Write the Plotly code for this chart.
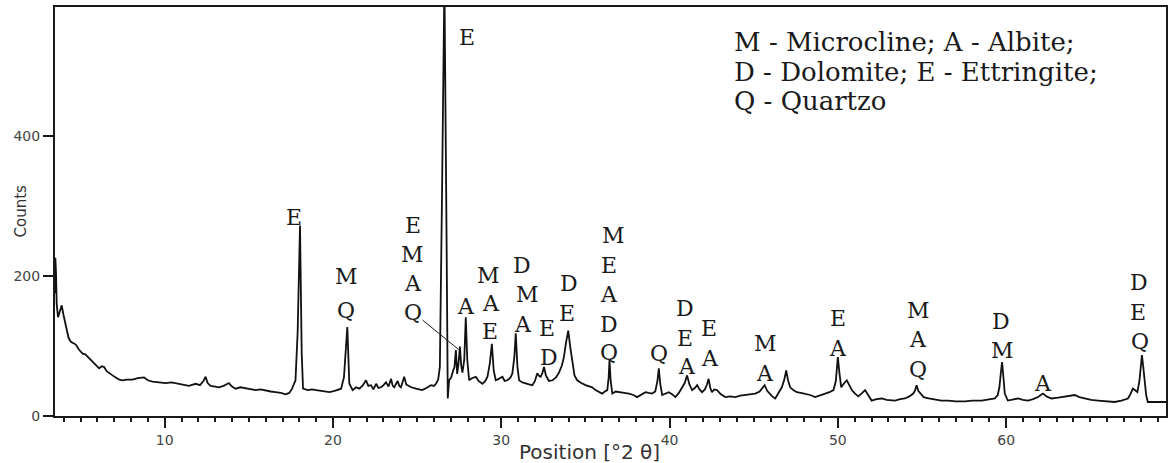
import plotly.graph_objects as go

# Diffractogram: position (°2θ) and intensity (counts)
two_theta = [
    3.48, 3.50, 3.54, 3.58, 3.66, 3.76, 3.88, 3.98, 4.13, 4.28, 4.42, 4.58, 4.72, 4.90,
    5.12, 5.28, 5.41, 5.60, 5.81, 6.00, 6.10, 6.25, 6.40, 6.55, 6.70, 6.90, 7.09, 7.30,
    7.49, 7.75, 8.08, 8.40, 8.77, 9.00, 9.27, 9.60, 10.06, 10.40, 10.85, 11.15, 11.44,
    11.84, 12.10, 12.30, 12.43, 12.55, 12.73, 13.00, 13.22, 13.50, 13.81, 14.00, 14.21,
    14.50, 14.80, 15.10, 15.40, 15.70, 16.00, 16.30, 16.58, 16.90, 17.18, 17.40, 17.57,
    17.77, 17.90, 18.04, 18.14, 18.22, 18.50, 18.75, 19.00, 19.40, 19.79, 20.10, 20.48,
    20.65, 20.85, 20.97, 21.17, 21.37, 21.57, 21.78, 21.96, 22.10, 22.26, 22.40, 22.56,
    22.70, 22.85, 23.00, 23.15, 23.30, 23.45, 23.55, 23.64, 23.84, 23.94, 24.04, 24.23,
    24.35, 24.43, 24.65, 24.93, 25.10, 25.30, 25.55, 25.82, 26.00, 26.12, 26.25, 26.35,
    26.47, 26.62, 26.75, 26.82, 26.90, 27.02, 27.14, 27.22, 27.30, 27.38, 27.46, 27.54,
    27.62, 27.69, 27.80, 27.89, 27.98, 28.09, 28.25, 28.49, 28.65, 28.88, 29.05, 29.18,
    29.32, 29.44, 29.55, 29.67, 29.85, 30.07, 30.20, 30.36, 30.55, 30.66, 30.78, 30.86,
    30.96, 31.06, 31.25, 31.45, 31.65, 31.85, 32.00, 32.14, 32.25, 32.34, 32.45, 32.54,
    32.65, 32.83, 33.05, 33.25, 33.43, 33.60, 33.72, 33.85, 33.98, 34.10, 34.22, 34.35,
    34.51, 34.75, 35.01, 35.20, 35.40, 35.60, 35.80, 35.99, 36.15, 36.30, 36.38, 36.43,
    36.50, 36.60, 36.80, 36.99, 37.30, 37.58, 37.85, 38.07, 38.30, 38.57, 38.75, 38.96,
    39.15, 39.28, 39.36, 39.45, 39.56, 39.75, 39.95, 40.15, 40.35, 40.55, 40.74, 40.90,
    41.04, 41.18, 41.34, 41.50, 41.64, 41.78, 41.93, 42.10, 42.22, 42.32, 42.42, 42.52,
    42.65, 42.82, 43.05, 43.31, 43.60, 43.91, 44.20, 44.50, 44.80, 45.09, 45.35, 45.52,
    45.65, 45.80, 45.95, 46.10, 46.28, 46.50, 46.67, 46.82, 46.93, 47.05, 47.17, 47.35,
    47.56, 47.80, 48.06, 48.35, 48.65, 48.95, 49.25, 49.50, 49.74, 49.88, 50.00, 50.10,
    50.20, 50.35, 50.53, 50.68, 50.83, 51.02, 51.22, 51.45, 51.62, 51.80, 52.01, 52.30,
    52.61, 52.90, 53.20, 53.40, 53.70, 53.99, 54.25, 54.48, 54.58, 54.68, 54.78, 54.90,
    55.10, 55.40, 55.77, 56.15, 56.56, 57.00, 57.55, 58.00, 58.54, 58.95, 59.33, 59.50,
    59.60, 59.70, 59.76, 59.84, 59.92, 60.10, 60.40, 60.71, 61.00, 61.30, 61.60, 61.90,
    62.05, 62.19, 62.40, 62.69, 63.00, 63.28, 63.70, 64.08, 64.35, 64.67, 65.05, 65.46,
    65.95, 66.45, 66.85, 67.24, 67.40, 67.53, 67.65, 67.80, 67.92, 68.02, 68.07, 68.15,
    68.23, 68.32, 68.42, 68.80, 69.20, 69.60,
]

counts = [
    175, 226, 205, 160, 141, 150, 158, 145, 127, 112, 106, 104, 102, 95,
    89, 88, 85, 80, 75, 70, 68, 71, 70, 64, 61, 58, 55, 52,
    51, 52, 52, 54, 55, 51, 49, 48, 47, 48, 46, 45, 43,
    46, 44, 50, 56, 47, 43, 42, 41, 43, 47, 42, 39,
    41, 40, 38, 37, 38, 36, 35, 34, 33, 31, 33, 39,
    51, 120, 272, 90, 39, 37, 38, 37, 35, 34, 36, 39,
    55, 127, 46, 37, 41, 39, 44, 51, 43, 44, 38, 46,
    40, 41, 44, 48, 42, 53, 43, 41, 50, 43, 41, 56,
    45, 44, 41, 39, 38, 37, 40, 44, 43, 46, 52, 70,
    300, 620, 250, 25, 51, 55, 65, 70, 94, 60, 75, 99,
    72, 62, 80, 141, 80, 51, 54, 56, 50, 46, 50, 56,
    75, 103, 65, 51, 53, 56, 50, 51, 55, 61, 85, 118,
    70, 51, 48, 46, 45, 44, 50, 61, 57, 56, 62, 70,
    58, 50, 51, 55, 62, 72, 84, 105, 122, 98, 75, 58,
    51, 47, 44, 43, 41, 37, 35, 32, 35, 37, 55, 80,
    50, 32, 35, 34, 33, 32, 30, 27, 30, 34, 33, 32,
    35, 50, 68, 45, 30, 32, 34, 31, 27, 33, 41, 47,
    58, 45, 37, 40, 44, 38, 34, 38, 45, 53, 40, 34,
    38, 37, 31, 27, 28, 27, 29, 30, 31, 32, 35, 40,
    44, 36, 32, 28, 25, 33, 41, 52, 65, 50, 41, 37,
    34, 33, 32, 30, 27, 29, 32, 34, 37, 50, 84, 60,
    41, 46, 51, 44, 37, 32, 28, 33, 37, 30, 22, 24,
    25, 23, 22, 22, 24, 25, 28, 32, 36, 44, 36, 32,
    27, 25, 23, 22, 22, 21, 21, 22, 22, 23, 25, 30,
    41, 65, 77, 55, 32, 22, 24, 25, 23, 22, 24, 27,
    30, 32, 28, 25, 26, 27, 28, 30, 27, 25, 23, 22,
    21, 20, 22, 25, 32, 39, 37, 34, 50, 75, 87, 70,
    51, 30, 20, 20, 21, 20,
]

# Phase letters placed over the reflections: (°2θ, counts, letter)
phase_labels = [
    (27.97, 540, "E"),
    (17.71, 284, "E"),
    (20.78, 199, "M"), (20.78, 151, "Q"),
    (24.73, 272, "E"), (24.73, 231, "M"), (24.73, 189, "A"), (24.73, 148, "Q"),
    (27.89, 156, "A"),
    (29.24, 201, "M"), (29.38, 161, "A"), (29.31, 120, "E"),
    (31.25, 215, "D"), (31.55, 173, "M"), (31.29, 131, "A"),
    (32.73, 125, "E"), (32.83, 84, "D"),
    (34.02, 189, "D"), (33.92, 146, "E"),
    (36.69, 258, "M"), (36.39, 215, "E"), (36.39, 173, "A"), (36.39, 131, "D"), (36.39, 90, "Q"),
    (39.36, 89, "Q"),
    (40.94, 153, "D"), (40.90, 111, "E"), (41.04, 70, "A"),
    (42.32, 125, "E"), (42.38, 82, "A"),
    (45.69, 103, "M"), (45.65, 61, "A"),
    (49.99, 139, "E"), (49.99, 96, "A"),
    (54.82, 151, "M"), (54.74, 109, "A"), (54.78, 67, "Q"),
    (59.69, 135, "D"), (59.78, 93, "M"),
    (62.19, 47, "A"),
    (67.87, 190, "D"), (67.85, 148, "E"), (67.93, 106, "Q"),
]

# Leader from the E/M/A/Q stack to the shoulder reflections
leader_x = [25.32, 27.46]
leader_y = [137, 95]

key_lines = [
    "M - Microcline; A - Albite;",
    "D - Dolomite; E - Ettringite;",
    "Q - Quartzo",
]

x_range = [3.48, 69.5]
y_range = [0, 584]
y_ticks = [0, 200, 400]

fig = go.Figure()
fig.add_trace(go.Scatter(
    x=two_theta, y=counts, mode="lines",
    line=dict(color="#111111", width=1.8),
    showlegend=False, hoverinfo="skip",
))

serif = "DejaVu Serif"
annotations = []
for x, y, letter in phase_labels:
    annotations.append(dict(
        x=x, y=y, xref="x", yref="y", text=letter, showarrow=False,
        xanchor="center", yanchor="middle",
        font=dict(family=serif, size=22, color="#1a1a1a"),
    ))

key_y = [0.915, 0.842, 0.769]
for line, ky in zip(key_lines, key_y):
    annotations.append(dict(
        x=0.609, y=ky, xref="paper", yref="paper", text=line, showarrow=False,
        xanchor="left", yanchor="middle",
        font=dict(family=serif, size=26, color="#1a1a1a"),
    ))

annotations.append(dict(
    x=0, y=0.5, xref="paper", yref="paper", text="Counts", showarrow=False,
    textangle=-90, xanchor="center", yanchor="middle", xshift=-35,
    font=dict(family="DejaVu Sans", size=15, color="#333"),
))
annotations.append(dict(
    x=0.481, y=0, xref="paper", yref="paper", text="Position [°2 θ]", showarrow=False,
    xanchor="center", yanchor="middle", yshift=-36,
    font=dict(family="DejaVu Sans", size=20, color="#333"),
))

fig.add_shape(
    type="line", xref="x", yref="y",
    x0=leader_x[0], y0=leader_y[0], x1=leader_x[1], y1=leader_y[1],
    line=dict(color="#1a1a1a", width=1),
)

fig.update_layout(
    width=1171, height=463,
    margin=dict(l=55, r=3, t=7, b=47, pad=0),
    paper_bgcolor="white", plot_bgcolor="white",
    annotations=annotations,
    xaxis=dict(
        range=x_range, dtick=10, tick0=0,
        ticks="outside", ticklen=10, tickwidth=2, tickcolor="#1a1a1a",
        minor=dict(dtick=1, ticks="outside", ticklen=4, tickwidth=1.5, tickcolor="#1a1a1a"),
        showline=True, linecolor="#1a1a1a", linewidth=2, mirror=True,
        showgrid=False, zeroline=False,
        tickfont=dict(family="DejaVu Sans", size=14, color="#444"),
    ),
    yaxis=dict(
        range=y_range, tickvals=y_ticks,
        ticks="outside", ticklen=10, tickwidth=1.5, tickcolor="#1a1a1a",
        showline=True, linecolor="#1a1a1a", linewidth=2, mirror=True,
        showgrid=False, zeroline=False,
        tickfont=dict(family="DejaVu Sans", size=14, color="#444"),
    ),
)

fig.write_html("out.html")
